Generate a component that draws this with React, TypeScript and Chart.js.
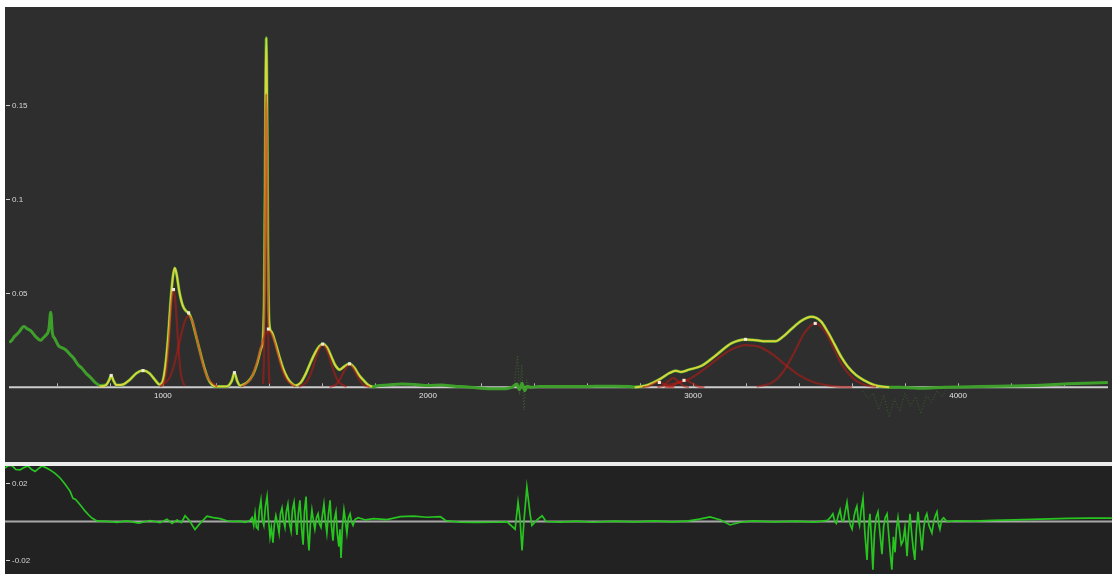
import React, { useEffect, useRef } from "react";
import { Chart, registerables } from "chart.js";

Chart.register(...registerables);

type Pt = [number, number];

// Axis ranges (wavenumber on x, absorbance on y)
const X_MIN = 419.5;
const X_MAX = 4565.5;
const MAIN_Y_MIN = -0.0376;
const MAIN_Y_MAX = 0.2002;
const RES_Y_MIN = -0.02727;
const RES_Y_MAX = 0.02883;

const xTickLabels = [1000, 2000, 3000, 4000];
const xMinorStep = 200;
const mainYTicks = [0.05, 0.1, 0.15];
const residualYTicks = [0.02, -0.02];

// Measured spectrum
const observed: Pt[] = [
  [420, 0.024], [427, 0.0245], [440, 0.027], [455, 0.029], [476, 0.0323], [490, 0.031],
  [502, 0.03], [520, 0.027], [539, 0.025], [550, 0.0265], [558, 0.0276], [570, 0.031],
  [577, 0.04], [583, 0.029], [592, 0.026], [607, 0.022], [620, 0.021], [633, 0.02],
  [650, 0.0175], [663, 0.0156], [680, 0.012], [693, 0.0104], [710, 0.0075], [727, 0.0052],
  [745, 0.0025], [764, 0.001], [785, 0.0012], [797, 0.0038], [805, 0.0063], [813, 0.0038],
  [825, 0.0012], [850, 0.0015], [875, 0.004], [900, 0.0075], [925, 0.0089], [950, 0.0074],
  [970, 0.004], [988, 0.0015], [1000, 0.0035], [1010, 0.012], [1019, 0.025], [1030, 0.047],
  [1038, 0.059], [1045, 0.0635], [1052, 0.06], [1062, 0.051], [1075, 0.0435], [1088, 0.0405],
  [1097, 0.0396], [1110, 0.0355], [1125, 0.0275], [1140, 0.019], [1155, 0.011], [1170, 0.0048],
  [1185, 0.0015], [1200, 0.0004], [1240, 0.0004], [1260, 0.0035], [1270, 0.0078], [1280, 0.0035],
  [1292, 0.0009], [1300, 0.0012], [1320, 0.0028], [1340, 0.0068], [1355, 0.0125], [1370, 0.0205],
  [1378, 0.0265], [1382, 0.048], [1384, 0.078], [1386, 0.122], [1388, 0.165], [1390, 0.186],
  [1392, 0.168], [1394, 0.126], [1396, 0.082], [1398, 0.052], [1402, 0.033], [1410, 0.0295],
  [1425, 0.0235], [1440, 0.016], [1455, 0.0095], [1470, 0.005], [1485, 0.0022], [1500, 0.001],
  [1520, 0.0025], [1540, 0.0075], [1555, 0.0125], [1575, 0.0185], [1590, 0.0218], [1603, 0.023],
  [1618, 0.0215], [1635, 0.0165], [1650, 0.0118], [1667, 0.0094], [1685, 0.0112], [1704, 0.0125],
  [1722, 0.0105], [1740, 0.0065], [1760, 0.0033], [1775, 0.0012], [1790, 0.0003], [1810, 0.0008],
  [1850, 0.0012], [1900, 0.0018], [1950, 0.0015], [2000, 0.001], [2050, 0.0012], [2100, 0.0006],
  [2150, 0.0002], [2200, -0.0005], [2250, -0.0008], [2300, -0.0006], [2320, 0.0003], [2335, 0.0018],
  [2345, -0.0012], [2355, 0.0022], [2365, -0.0018], [2375, 0.0006], [2390, 0], [2420, 0.0005],
  [2500, 0.0004], [2600, 0.0005], [2700, 0.0006], [2760, 0.0004], [2780, 0.0002], [2820, 0.0008],
  [2850, 0.0025], [2880, 0.0048], [2910, 0.0075], [2935, 0.0088], [2955, 0.0082], [2985, 0.0094],
  [3033, 0.0115], [3086, 0.017], [3146, 0.0235], [3198, 0.0255], [3240, 0.025], [3273, 0.0245],
  [3311, 0.0245], [3340, 0.027], [3371, 0.031], [3410, 0.0355], [3446, 0.0375], [3483, 0.035],
  [3510, 0.029], [3535, 0.0225], [3560, 0.016], [3584, 0.011], [3615, 0.0065], [3648, 0.0035],
  [3680, 0.0014], [3710, 0.0004], [3740, 0], [3780, 0], [3850, -0.0005], [3950, 0],
  [4050, 0.0003], [4150, 0.0006], [4250, 0.0008], [4330, 0.0012], [4400, 0.0018], [4480, 0.0022],
  [4565, 0.0025],
];

// Sparse noisy samples around the CO2 band and above 3600
const co2Noise: Pt[] = [
  [2325, 0], [2338, 0.017], [2346, -0.004], [2354, 0.012], [2362, -0.012], [2372, 0.004], [2385, 0],
];
const tailNoise: Pt[] = [
  [3640, -0.002], [3660, -0.006], [3680, -0.003], [3700, -0.012], [3720, -0.004], [3740, -0.016],
  [3760, -0.006], [3780, -0.013], [3800, -0.003], [3820, -0.01], [3840, -0.005], [3860, -0.014],
  [3880, -0.004], [3900, -0.008], [3920, -0.002], [3940, -0.005], [3960, 0],
];

// Total fit, fingerprint region
const fitLowRange: Pt[] = [
  [760, 0.0004], [785, 0.0012], [797, 0.0038], [805, 0.0063], [813, 0.0038], [825, 0.0012],
  [850, 0.0015], [875, 0.004], [900, 0.0075], [925, 0.0089], [950, 0.0074], [970, 0.004],
  [988, 0.0015], [1000, 0.0035], [1010, 0.012], [1019, 0.025], [1030, 0.047], [1038, 0.059],
  [1045, 0.0635], [1052, 0.06], [1062, 0.051], [1075, 0.0435], [1088, 0.0405], [1097, 0.0396],
  [1110, 0.0355], [1125, 0.0275], [1140, 0.019], [1155, 0.011], [1170, 0.0048], [1185, 0.0015],
  [1200, 0.0004], [1240, 0.0004], [1260, 0.0035], [1270, 0.0078], [1280, 0.0035], [1292, 0.0009],
  [1300, 0.0012], [1320, 0.0028], [1340, 0.0068], [1355, 0.0125], [1370, 0.0205], [1378, 0.0265],
  [1382, 0.048], [1384, 0.078], [1386, 0.122], [1388, 0.165], [1390, 0.186], [1392, 0.168],
  [1394, 0.126], [1396, 0.082], [1398, 0.052], [1402, 0.033], [1410, 0.0295], [1425, 0.0235],
  [1440, 0.016], [1455, 0.0095], [1470, 0.005], [1485, 0.0022], [1500, 0.001], [1520, 0.0025],
  [1540, 0.0075], [1555, 0.0125], [1575, 0.0185], [1590, 0.0218], [1603, 0.023], [1618, 0.0215],
  [1635, 0.0165], [1650, 0.0118], [1667, 0.0094], [1685, 0.0112], [1704, 0.0125], [1722, 0.0105],
  [1740, 0.0065], [1760, 0.0033], [1775, 0.0012], [1790, 0.0003],
];

// Total fit, C-H / O-H stretch region
const fitHighRange: Pt[] = [
  [2780, 0], [2820, 0.0008], [2850, 0.0025], [2880, 0.0048], [2910, 0.0075], [2935, 0.0088],
  [2955, 0.0082], [2985, 0.0094], [3033, 0.0115], [3086, 0.017], [3146, 0.0235], [3198, 0.0255],
  [3240, 0.025], [3273, 0.0245], [3311, 0.0245], [3340, 0.027], [3371, 0.031], [3410, 0.0355],
  [3446, 0.0375], [3483, 0.035], [3510, 0.029], [3535, 0.0225], [3560, 0.016], [3584, 0.011],
  [3615, 0.0065], [3648, 0.0035], [3680, 0.0014], [3710, 0.0004], [3740, 0],
];

// Individual fitted bands
const peak1040: Pt[] = [
  [998, 0.0006], [1012, 0.007], [1019, 0.0169], [1026, 0.0315], [1033, 0.0459], [1040, 0.052],
  [1047, 0.0459], [1054, 0.0315], [1061, 0.0169], [1068, 0.007], [1082, 0.0006],
];
const peak1097: Pt[] = [
  [989, 0.0004], [1025, 0.0051], [1043, 0.0123], [1061, 0.023], [1079, 0.0335], [1097, 0.038],
  [1115, 0.0335], [1133, 0.023], [1151, 0.0123], [1169, 0.0051], [1205, 0.0004],
];
const peak1390: Pt[] = [
  [1378, 0.0017], [1382, 0.0211], [1384, 0.0507], [1386, 0.0946], [1388, 0.1377], [1390, 0.156],
  [1392, 0.1377], [1394, 0.0946], [1396, 0.0507], [1398, 0.0211], [1402, 0.0017],
];
const peak1398: Pt[] = [
  [1296, 0.0003], [1330, 0.0041], [1347, 0.0097], [1364, 0.0182], [1381, 0.0265], [1398, 0.03],
  [1415, 0.0265], [1432, 0.0182], [1449, 0.0097], [1466, 0.0041], [1500, 0.0003],
];
const peak1603: Pt[] = [
  [1513, 0.0002], [1543, 0.003], [1558, 0.0073], [1573, 0.0136], [1588, 0.0199], [1603, 0.0225],
  [1618, 0.0199], [1633, 0.0136], [1648, 0.0073], [1663, 0.003], [1693, 0.0002],
];
const peak1704: Pt[] = [
  [1629, 0.0001], [1654, 0.0016], [1666, 0.0039], [1679, 0.0073], [1692, 0.0106], [1704, 0.012],
  [1716, 0.0106], [1729, 0.0073], [1742, 0.0039], [1754, 0.0016], [1779, 0.0001],
];
const peak2870: Pt[] = [
  [2810, 0.0001], [2830, 0.0004], [2850, 0.0018], [2870, 0.003], [2890, 0.0018], [2910, 0.0004], [2930, 0.0001],
];
const peak2925: Pt[] = [
  [2865, 0.0001], [2885, 0.0007], [2905, 0.003], [2925, 0.005], [2945, 0.003], [2965, 0.0007], [2985, 0.0001],
];
const peak2968: Pt[] = [
  [2893, 0], [2918, 0.0005], [2943, 0.0024], [2968, 0.004], [2993, 0.0024], [3018, 0.0005], [3043, 0],
];
const peak3198: Pt[] = [
  [2900, 0.001], [2980, 0.004], [3050, 0.0105], [3100, 0.016], [3150, 0.0205], [3198, 0.0225],
  [3250, 0.0215], [3300, 0.0175], [3350, 0.0118], [3400, 0.0065], [3450, 0.003], [3520, 0.0008], [3600, 0],
];
const peak3461: Pt[] = [
  [3240, 0.0003], [3300, 0.0026], [3340, 0.0082], [3380, 0.018], [3420, 0.0288], [3461, 0.034],
  [3500, 0.0293], [3530, 0.021], [3560, 0.0125], [3600, 0.0053], [3640, 0.0016], [3690, 0.0002],
];

const peakMarkers: Pt[] = [
  [805, 0.0063], [925, 0.0089], [1040, 0.052], [1097, 0.0396], [1270, 0.0078], [1398, 0.031],
  [1603, 0.023], [1704, 0.0125], [2873, 0.0026], [2966, 0.0037], [3198, 0.0255], [3461, 0.034],
];

// Fit residual
const residual: Pt[] = [
  [420, 0.0278], [433, 0.0292], [446, 0.029], [460, 0.027], [476, 0.0268], [490, 0.028],
  [506, 0.0288], [520, 0.027], [532, 0.026], [545, 0.0275], [558, 0.0288], [572, 0.028],
  [588, 0.0268], [607, 0.025], [626, 0.0226], [644, 0.0195], [663, 0.0158], [674, 0.012],
  [684, 0.0115], [693, 0.01], [706, 0.0078], [719, 0.0055], [732, 0.0035], [745, 0.0018],
  [764, 0.0003], [800, 0.0001], [840, -0.0005], [876, 0.0003], [920, -0.0008], [963, 0.0005],
  [1000, -0.0006], [1026, 0.0012], [1045, -0.001], [1064, 0.0008], [1080, -0.0005], [1094, 0.003],
  [1110, 0.0005], [1131, -0.0042], [1150, -0.001], [1176, 0.0028], [1200, 0.002], [1225, 0.0015],
  [1250, 0.0004], [1273, 0], [1300, 0.0002], [1318, -0.0004],
  [1337, 0.0005], [1345, 0.002], [1351, -0.002], [1356, 0.004], [1361, -0.003], [1367, -0.004],
  [1372, 0.006], [1378, 0.011], [1383, 0.001], [1389, -0.002], [1395, 0.008], [1401, 0.013],
  [1406, 0.002], [1412, -0.008], [1417, -0.003], [1423, -0.011], [1428, -0.002], [1434, 0.003],
  [1440, -0.001], [1446, -0.006], [1451, 0.004], [1457, 0.007], [1462, 0.001], [1468, -0.003],
  [1473, 0.005], [1479, 0.009], [1485, -0.001], [1491, -0.005], [1496, 0.006], [1502, 0.01],
  [1507, 0.002], [1513, -0.007], [1518, 0.004], [1524, 0.011], [1530, -0.003], [1536, -0.012],
  [1541, 0.005], [1547, 0.013], [1552, -0.004], [1558, -0.015], [1563, -0.002], [1569, 0.006],
  [1574, 0.001], [1580, -0.004], [1586, 0.002], [1592, 0.004], [1597, -0.001], [1603, -0.003],
  [1608, 0.003], [1614, 0.009], [1619, 0.001], [1625, -0.006], [1631, 0.004], [1637, 0.011],
  [1642, -0.002], [1648, -0.01], [1653, 0.001], [1659, 0.005], [1664, -0.006], [1670, -0.013],
  [1674, -0.004], [1678, -0.019], [1683, -0.003], [1689, 0.006], [1694, 0.001], [1700, -0.006],
  [1706, 0.002], [1712, 0.004], [1717, 0], [1723, -0.002], [1730, 0.001], [1742, 0.002],
  [1770, 0.0008], [1800, 0.0015], [1850, 0.001], [1900, 0.0025], [1950, 0.0028], [2000, 0.0022],
  [2050, 0.0025], [2070, 0.0005], [2120, -0.0003], [2180, -0.0005], [2250, -0.0004], [2300, -0.0002],
  [2330, -0.004], [2341, 0.01], [2348, 0.002], [2356, -0.015], [2363, 0], [2374, 0.018],
  [2386, 0.004], [2393, -0.002], [2412, 0.0008], [2431, 0.003], [2446, 0], [2500, -0.0003],
  [2560, 0.0002], [2620, -0.0004], [2700, 0.0002], [2780, -0.0002], [2850, 0.0003], [2920, -0.0002],
  [2980, 0.0003], [3020, 0.0012], [3060, 0.0024], [3100, 0.0008], [3135, -0.0018], [3170, -0.0005],
  [3220, 0.0003], [3300, -0.0002], [3380, 0.0002], [3450, -0.0003], [3500, 0.0006],
  [3510, 0.002], [3520, 0.004], [3527, 0], [3533, -0.001], [3540, 0.003], [3547, 0.006],
  [3553, 0.001], [3560, 0], [3566, 0.005], [3573, 0.01], [3580, 0.002], [3586, -0.002],
  [3592, -0.004], [3600, 0.003], [3605, 0.006], [3610, 0.008], [3615, 0.001], [3620, -0.002],
  [3626, 0.006], [3633, 0.012], [3640, -0.006], [3648, -0.02], [3653, -0.004], [3659, 0.004],
  [3664, -0.008], [3670, -0.025], [3676, -0.006], [3682, 0.002], [3689, 0.005], [3695, -0.004],
  [3704, -0.017], [3710, -0.003], [3716, 0.002], [3723, 0.004], [3730, -0.008], [3736, -0.018],
  [3741, -0.025], [3747, -0.008], [3753, -0.016], [3758, -0.004], [3764, 0.002], [3770, -0.005],
  [3776, -0.012], [3783, -0.01], [3790, -0.003], [3798, -0.018], [3803, -0.006], [3809, 0.004],
  [3815, -0.006], [3821, -0.014], [3827, -0.02], [3833, -0.004], [3839, 0.005], [3845, -0.003],
  [3854, -0.015], [3860, -0.004], [3866, 0.002], [3872, 0.004], [3880, -0.002], [3891, -0.006],
  [3898, 0], [3904, 0.003], [3910, 0.005], [3915, -0.001], [3921, -0.004], [3928, 0.001],
  [3935, 0.002], [3947, 0], [3980, 0.0004], [4050, 0.0002], [4120, 0.0006], [4200, 0.0008],
  [4300, 0.0012], [4400, 0.0016], [4480, 0.0018], [4565, 0.0018],
];

const bandCurves: Pt[][] = [
  peak1040, peak1097, peak1390, peak1398, peak1603, peak1704,
  peak2870, peak2925, peak2968, peak3198, peak3461,
];

const xy = (pts: Pt[]) => pts.map(([x, y]) => ({ x, y }));

const LABEL_FONT = '8px "Liberation Sans", Arial, sans-serif';

function panelDecor(opts: {
  bg: string;
  zeroColor: string;
  zeroWidth: number;
  yTicks: number[];
  xLabels: boolean;
}) {
  return {
    id: "panelDecor",
    beforeDraw(chart: any) {
      const { ctx, width, height } = chart;
      ctx.save();
      ctx.fillStyle = opts.bg;
      ctx.fillRect(0, 0, width, height);
      ctx.restore();
    },
    beforeDatasetsDraw(chart: any) {
      const { ctx, chartArea, scales } = chart;
      const y0 = scales.y.getPixelForValue(0);
      ctx.save();
      ctx.strokeStyle = opts.zeroColor;
      ctx.lineWidth = opts.zeroWidth;
      ctx.beginPath();
      ctx.moveTo(chartArea.left, y0);
      ctx.lineTo(chartArea.right, y0);
      ctx.stroke();
      if (opts.xLabels) {
        ctx.strokeStyle = "#b8b8b8";
        ctx.lineWidth = 1;
        const start = Math.ceil(X_MIN / xMinorStep) * xMinorStep;
        for (let v = start; v <= X_MAX; v += xMinorStep) {
          const px = Math.round(scales.x.getPixelForValue(v)) + 0.5;
          ctx.beginPath();
          ctx.moveTo(px, y0 - 1);
          ctx.lineTo(px, y0 - 4);
          ctx.stroke();
        }
      }
      ctx.restore();
    },
    afterDatasetsDraw(chart: any) {
      const { ctx, scales } = chart;
      ctx.save();
      ctx.font = LABEL_FONT;
      ctx.fillStyle = "#d6d6d6";
      ctx.strokeStyle = "#cfcfcf";
      ctx.lineWidth = 1;
      ctx.textBaseline = "middle";
      ctx.textAlign = "left";
      for (const v of opts.yTicks) {
        const py = Math.round(scales.y.getPixelForValue(v)) + 0.5;
        ctx.beginPath();
        ctx.moveTo(1, py);
        ctx.lineTo(5, py);
        ctx.stroke();
        ctx.fillText(String(v), 7, py);
      }
      if (opts.xLabels) {
        const y0 = scales.y.getPixelForValue(0);
        ctx.textAlign = "center";
        ctx.fillStyle = "#e2e2e2";
        for (const v of xTickLabels) {
          ctx.fillText(String(v), scales.x.getPixelForValue(v), y0 + 8);
        }
      }
      ctx.restore();
    },
  };
}

const lineDefaults = {
  pointRadius: 0,
  pointHoverRadius: 0,
  fill: false,
};

const FIT_COLOR = "#dad43e";
const BAND_COLOR = "rgba(190,28,20,0.55)";

export default function App() {
  const mainRef = useRef<HTMLCanvasElement | null>(null);
  const resRef = useRef<HTMLCanvasElement | null>(null);

  useEffect(() => {
    if (!mainRef.current || !resRef.current) return;

    const bandSets = bandCurves.map((pts) => ({
      ...lineDefaults,
      data: xy(pts),
      borderColor: BAND_COLOR,
      borderWidth: 2.2,
      cubicInterpolationMode: "monotone" as const,
      order: 1,
    }));

    const main = new Chart(mainRef.current, {
      type: "line",
      data: {
        datasets: [
          {
            data: xy(peakMarkers),
            showLine: false,
            pointStyle: "rect",
            pointRadius: 2.2,
            pointBackgroundColor: "#efe9d6",
            pointBorderWidth: 0,
            order: 0,
          },
          ...bandSets,
          {
            ...lineDefaults,
            data: xy(fitLowRange),
            borderColor: FIT_COLOR,
            borderWidth: 2,
            cubicInterpolationMode: "monotone",
            order: 2,
          },
          {
            ...lineDefaults,
            data: xy(fitHighRange),
            borderColor: FIT_COLOR,
            borderWidth: 2,
            cubicInterpolationMode: "monotone",
            order: 2,
          },
          {
            ...lineDefaults,
            data: xy(co2Noise),
            borderColor: "rgba(70,150,45,0.5)",
            borderWidth: 1,
            borderDash: [1, 2],
            order: 3,
          },
          {
            ...lineDefaults,
            data: xy(tailNoise),
            borderColor: "rgba(70,150,45,0.45)",
            borderWidth: 1,
            borderDash: [1, 2],
            order: 3,
          },
          {
            ...lineDefaults,
            data: xy(observed),
            borderColor: "rgb(62,160,42)",
            borderWidth: 3,
            cubicInterpolationMode: "monotone",
            order: 4,
          },
        ] as any,
      },
      options: {
        animation: false,
        responsive: false,
        maintainAspectRatio: false,
        devicePixelRatio: 1,
        layout: { padding: 0 },
        events: [],
        plugins: { legend: { display: false }, tooltip: { enabled: false } },
        scales: {
          x: { type: "linear", min: X_MIN, max: X_MAX, display: false },
          y: { type: "linear", min: MAIN_Y_MIN, max: MAIN_Y_MAX, display: false },
        },
      },
      plugins: [
        panelDecor({ bg: "#2e2e2e", zeroColor: "#cdcdcd", zeroWidth: 2, yTicks: mainYTicks, xLabels: true }),
      ],
    });

    const res = new Chart(resRef.current, {
      type: "line",
      data: {
        datasets: [
          {
            ...lineDefaults,
            data: xy(residual),
            borderColor: "rgb(40,196,32)",
            borderWidth: 1.7,
            tension: 0,
          },
        ],
      },
      options: {
        animation: false,
        responsive: false,
        maintainAspectRatio: false,
        devicePixelRatio: 1,
        layout: { padding: 0 },
        events: [],
        plugins: { legend: { display: false }, tooltip: { enabled: false } },
        scales: {
          x: { type: "linear", min: X_MIN, max: X_MAX, display: false },
          y: { type: "linear", min: RES_Y_MIN, max: RES_Y_MAX, display: false },
        },
      },
      plugins: [
        panelDecor({ bg: "#222222", zeroColor: "#a8a8a8", zeroWidth: 2, yTicks: residualYTicks, xLabels: false }),
      ],
    });

    return () => {
      main.destroy();
      res.destroy();
    };
  }, []);

  return (
    <div
      style={{
        position: "absolute",
        left: 0,
        top: 0,
        width: 1112,
        height: 574,
        background: "#ffffff",
        overflow: "hidden",
      }}
    >
      <canvas
        ref={mainRef}
        width={1107}
        height={455}
        style={{ position: "absolute", left: 5, top: 7, width: 1107, height: 455, display: "block" }}
      />
      <div
        style={{ position: "absolute", left: 5, top: 462, width: 1107, height: 4, background: "#ececec" }}
      />
      <canvas
        ref={resRef}
        width={1107}
        height={108}
        style={{ position: "absolute", left: 5, top: 466, width: 1107, height: 108, display: "block" }}
      />
    </div>
  );
}
